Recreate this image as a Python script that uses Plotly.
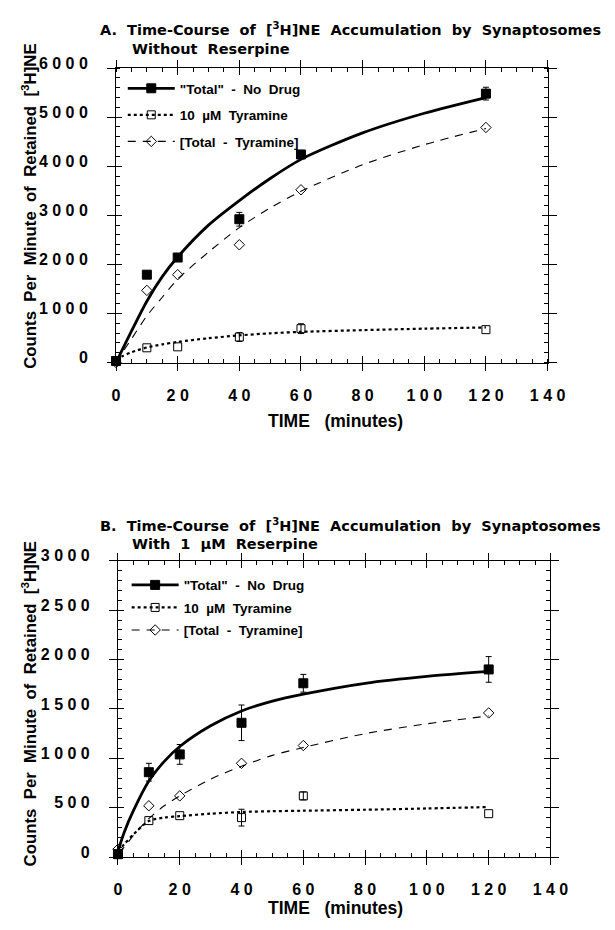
import plotly.graph_objects as go

# viewport size and figure size (the page body keeps an 8 px margin)
VW, VH = 615, 930
PAGE_MARGIN = 8
W, H = VW - 2 * PAGE_MARGIN, VH - 2 * PAGE_MARGIN

# ---------------- data ----------------
time_pts = [0, 10, 20, 40, 60, 120]
time_fit = [0, 2, 5, 10, 15, 20, 30, 40, 50, 60, 80, 100, 120]

# Panel A: without reserpine
a_total = [30, 1790, 2140, 2920, 4240, 5480]
a_total_err = [0, 0, 60, 140, 60, 130]
a_tyr = [40, 300, 320, 520, 690, 670]
a_tyr_err = [0, 0, 0, 90, 100, 0]
a_diff = [0, 1470, 1790, 2400, 3520, 4790]
a_total_fit = [0, 260, 640, 1250, 1750, 2150, 2800, 3300, 3750, 4140, 4680, 5080, 5400]
a_tyr_fit = [60, 130, 210, 306, 370, 420, 495, 553, 595, 625, 660, 690, 715]
a_diff_fit = [0, 200, 480, 950, 1330, 1700, 2250, 2750, 3150, 3490, 4030, 4440, 4770]

# Panel B: with 1 uM reserpine
b_total = [30, 860, 1040, 1360, 1760, 1900]
b_total_err = [0, 90, 100, 180, 90, 130]
b_tyr = [30, 370, 420, 400, 620, 440]
b_tyr_err = [0, 0, 0, 85, 40, 0]
b_diff = [80, 520, 620, 950, 1130, 1460]
b_total_fit = [60, 250, 470, 770, 970, 1120, 1330, 1480, 1580, 1650, 1760, 1830, 1880]
b_tyr_fit = [60, 130, 230, 365, 400, 415, 440, 457, 465, 470, 480, 493, 507]
b_diff_fit = [50, 100, 220, 390, 520, 620, 790, 920, 1030, 1110, 1250, 1350, 1430]

x_ticks = [0, 20, 40, 60, 80, 100, 120, 140]
a_y_ticks = [0, 1000, 2000, 3000, 4000, 5000, 6000]
b_y_ticks = [0, 500, 1000, 1500, 2000, 2500, 3000]

NB = "\u00a0"
series_names = ['"Total"' + NB * 2 + '-' + NB * 2 + 'No' + NB * 2 + 'Drug',
                '10' + NB * 2 + 'µM' + NB * 2 + 'Tyramine',
                '[Total' + NB * 2 + '-' + NB * 2 + 'Tyramine]']

title_core = (NB * 2).join(["Time-Course", "of", "[<sup>3</sup>H]NE", "Accumulation", "by", "Synaptosomes"])
title_a = ["A." + NB * 2 + title_core, "Without" + NB * 2 + "Reserpine"]
title_b = ["B." + NB * 2 + title_core, (NB * 2).join(["With", "1", "µM", "Reserpine"])]
y_title = (NB * 2).join(["Counts", "Per", "Minute", "of", "Retained", "[<sup>3</sup>H]NE"])
x_title = "TIME" + NB * 3 + "(minutes)"

# ---------------- styling ----------------
FONT = "Liberation Sans, Arial, sans-serif"
TFONT = "DejaVu Sans, Liberation Sans, sans-serif"
BLACK = "#000000"


def spaced(v):
    return NB.join(str(v))


def px_x(p):
    return (p - PAGE_MARGIN) / W


def px_y(p):
    return 1 - (p - PAGE_MARGIN) / H


fig = go.Figure()

panels = [
    dict(x="x", y="y", legend="legend",
         total=a_total, total_err=a_total_err, tyr=a_tyr, tyr_err=a_tyr_err, diff=a_diff,
         total_fit=a_total_fit, tyr_fit=a_tyr_fit, diff_fit=a_diff_fit),
    dict(x="x2", y="y2", legend="legend2",
         total=b_total, total_err=b_total_err, tyr=b_tyr, tyr_err=b_tyr_err, diff=b_diff,
         total_fit=b_total_fit, tyr_fit=b_tyr_fit, diff_fit=b_diff_fit),
]

line_styles = [dict(color=BLACK, width=2.8),
               dict(color=BLACK, width=2.2, dash="dot"),
               dict(color=BLACK, width=1.1, dash="8px,7px")]
marker_styles = [dict(symbol="square", size=9, color=BLACK, line=dict(color=BLACK, width=1)),
                 dict(symbol="square-open", size=8, color=BLACK, line=dict(color=BLACK, width=1)),
                 dict(symbol="diamond-open", size=8, color=BLACK, line=dict(color=BLACK, width=1))]

for p in panels:
    fits = [p["total_fit"], p["tyr_fit"], p["diff_fit"]]
    pts = [p["total"], p["tyr"], p["diff"]]
    errs = [p["total_err"], p["tyr_err"], None]
    # fitted curves
    for k in range(3):
        fig.add_trace(go.Scatter(x=time_fit, y=fits[k], mode="lines",
                                 line=dict(shape="spline", smoothing=0.8, **line_styles[k]),
                                 xaxis=p["x"], yaxis=p["y"], showlegend=False, hoverinfo="skip"))
    # error bars (only points that have them)
    for k in range(3):
        if errs[k] is None:
            continue
        ex = [t for t, e in zip(time_pts, errs[k]) if e > 0]
        ey = [v for v, e in zip(pts[k], errs[k]) if e > 0]
        ee = [e for e in errs[k] if e > 0]
        fig.add_trace(go.Scatter(x=ex, y=ey, mode="markers", marker=dict(size=2, color="rgba(0,0,0,0)"),
                                 error_y=dict(type="data", array=ee, visible=True, color=BLACK, thickness=1, width=3),
                                 xaxis=p["x"], yaxis=p["y"], showlegend=False, hoverinfo="skip", cliponaxis=False))
    # data points
    for k in range(3):
        fig.add_trace(go.Scatter(x=time_pts, y=pts[k], mode="markers", marker=marker_styles[k],
                                 xaxis=p["x"], yaxis=p["y"], showlegend=False, cliponaxis=False))
    # legend entries
    for k in range(3):
        fig.add_trace(go.Scatter(x=[None], y=[None], mode="lines+markers", name=series_names[k],
                                 line=line_styles[k], marker=marker_styles[k], legendgroup=p["legend"] + str(k),
                                 legend=p["legend"], xaxis=p["x"], yaxis=p["y"]))


def x_axis(domain, anchor, overlay=None):
    d = dict(domain=domain, anchor=anchor, range=[0, 140], tickmode="array", tickvals=x_ticks,
             showgrid=False, zeroline=False, mirror="ticks", ticklen=7, tickcolor=BLACK, tickwidth=1)
    if overlay is None:
        d.update(ticks="outside", showline=True, linecolor=BLACK, linewidth=1,
                 ticktext=[spaced(v) for v in x_ticks], ticklabelstandoff=11,
                 tickfont=dict(family=FONT, size=16, color=BLACK, weight="bold"),
                 minor=dict(dtick=5, ticks="inside", ticklen=4, tickcolor=BLACK, tickwidth=1))
    else:
        d.update(overlaying=overlay, ticks="inside", showline=False, showticklabels=False)
    return d


def y_axis(domain, anchor, rng, ticks, minor_dtick, overlay=None):
    d = dict(domain=domain, anchor=anchor, range=rng, tickmode="array", tickvals=ticks,
             showgrid=False, zeroline=False, mirror="ticks", tickcolor=BLACK, tickwidth=1)
    if overlay is None:
        d.update(ticks="outside", ticklen=8, showline=True, linecolor=BLACK, linewidth=1,
                 ticktext=[spaced(v) for v in ticks], ticklabelstandoff=16, ticklabelshift=-5,
                 tickfont=dict(family=FONT, size=16, color=BLACK, weight="bold"),
                 minor=dict(dtick=minor_dtick, ticks="inside", ticklen=4, tickcolor=BLACK, tickwidth=1))
    else:
        d.update(overlaying=overlay, ticks="inside", ticklen=6, showline=False, showticklabels=False)
    return d


ax_a = [px_x(116), px_x(564)]
ay_a = [px_y(356), px_y(56)]
ax_b = [px_x(118), px_x(567)]
ay_b = [px_y(860), px_y(558)]

legend_common = dict(bgcolor="rgba(0,0,0,0)", borderwidth=0, xanchor="left", yanchor="top",
                     font=dict(family=FONT, size=13.5, color=BLACK, weight="bold"),
                     itemwidth=47, itemclick=False, itemdoubleclick=False)

fig.update_layout(
    width=W, height=H, margin=dict(l=0, r=0, t=0, b=0),
    paper_bgcolor="white", plot_bgcolor="white", showlegend=True,
    xaxis=x_axis(ax_a, "y"),
    yaxis=y_axis(ay_a, "x", [0, 6000], a_y_ticks, 200),
    xaxis2=x_axis(ax_b, "y2"),
    yaxis2=y_axis(ay_b, "x2", [0, 3000], b_y_ticks, 100),
    xaxis3=x_axis(ax_a, "y", overlay="x"),
    yaxis3=y_axis(ay_a, "x", [0, 6000], a_y_ticks, 200, overlay="y"),
    xaxis4=x_axis(ax_b, "y2", overlay="x2"),
    yaxis4=y_axis(ay_b, "x2", [0, 3000], b_y_ticks, 100, overlay="y2"),
    legend=dict(legend_common, x=px_x(123), y=px_y(61), tracegroupgap=6),
    legend2=dict(legend_common, x=px_x(127), y=px_y(567), tracegroupgap=2),
)

# invisible traces so the overlay axes get drawn
for xa, ya in [("x3", "y3"), ("x4", "y4")]:
    fig.add_trace(go.Scatter(x=[None], y=[None], xaxis=xa, yaxis=ya, showlegend=False, hoverinfo="skip"))

ann = []
tf = dict(family=TFONT, size=14.5, color=BLACK, weight="bold")
for (l1, l2), y1, y2 in [(title_a, 16, 37), (title_b, 522, 541)]:
    ann.append(dict(text=l1, x=px_x(97), y=px_y(y1), xref="paper", yref="paper", xanchor="left", yanchor="middle",
                    showarrow=False, font=tf))
    ann.append(dict(text=l2, x=px_x(130), y=px_y(y2), xref="paper", yref="paper", xanchor="left", yanchor="middle",
                    showarrow=False, font=tf))
for yc in [197, 704]:
    ann.append(dict(text=y_title, x=px_x(26), y=px_y(yc), xref="paper", yref="paper", xanchor="center", yanchor="middle",
                    textangle=-90, showarrow=False, font=dict(family=FONT, size=16.8, color=BLACK, weight="bold")))
for yc in [416, 912]:
    ann.append(dict(text=x_title, x=px_x(344), y=px_y(yc), xref="paper", yref="paper", xanchor="center", yanchor="middle",
                    showarrow=False, font=dict(family=FONT, size=17.5, color=BLACK, weight="bold")))
fig.update_layout(annotations=ann)

fig.write_html("out.html")
